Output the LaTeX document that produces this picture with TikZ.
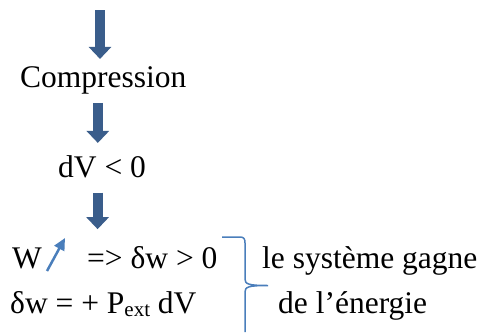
\documentclass[tikz,border=0pt]{standalone}
\usepackage{fontspec}
\setmainfont{Liberation Serif}
\newfontfamily\timesfont{Liberation Serif}
\usetikzlibrary{arrows.meta}
\definecolor{darkarrow}{HTML}{3A5D8B}
\definecolor{lightblue}{HTML}{4A7EBB}
\newcommand{\subext}{{\fontsize{21}{21}\selectfont\raisebox{-3pt}{ext}}}
\begin{document}
\begin{tikzpicture}[x=1pt, y=-1pt, every node/.style={font=\timesfont\fontsize{31.5}{38}\selectfont, inner sep=0pt},
  blockarrow/.style={draw=darkarrow, line width=10pt, -{Triangle[width'=22pt 0, length=12pt 0, color=darkarrow]}},
  >=Triangle]
  \useasboundingbox (0,0) rectangle (481,332);

  \node[anchor=base west] (comp) at (20,87) {Compression};
  \node[anchor=base west] (dv) at (58,177) {dV < 0};
  \node[anchor=base west] (w) at (12,268) {W};
  \node[anchor=base west] (wpos) at (87,268) {=> δw > 0};
  \node[anchor=base west] (dw) at (10,313) {δw = + P\subext\ dV};
  \node[anchor=base west] (gain) at (262,268) {le système gagne};
  \node[anchor=base west] (energy) at (278,313) {de l’énergie};

  \coordinate (start) at (100,10);
  \coordinate (a2) at ([xshift=-5.5pt, yshift=-9pt]comp.south);
  \coordinate (a3) at ([xshift=-4.5pt, yshift=-15pt]dv.south);
  \draw[blockarrow] (start) -- ([yshift=7pt]start |- comp.north);
  \draw[blockarrow] (a2) -- ([yshift=12pt]a2 |- dv.north);
  \draw[blockarrow] (a3) -- ([yshift=18pt]a3 |- w.north);

  \draw[lightblue, line width=2.5pt, -{Triangle[width'=11pt 0, length=12pt 0]}]
    ([xshift=35pt, yshift=-3pt]w.base west) -- ([xshift=53pt, yshift=30pt]w.base west);

  % accolade
  \draw[lightblue, line width=1.5pt] (222,237) -- (240,237) .. controls (244,237) and (245,239) .. (245,243)
    -- (245,279) .. controls (245,284) and (248,285.5) .. (268,285.5)
    .. controls (248,285.5) and (245,287) .. (245,292) -- (245,332);
\end{tikzpicture}
\end{document}
